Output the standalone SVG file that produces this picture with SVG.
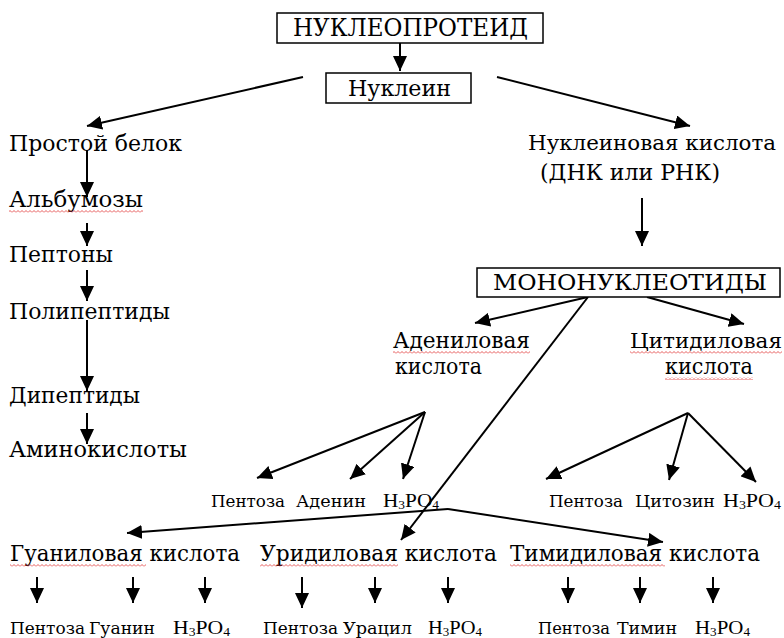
<svg xmlns="http://www.w3.org/2000/svg" width="784" height="638" viewBox="0 0 784 638">
<defs>
<marker id="ah" markerUnits="userSpaceOnUse" markerWidth="15" markerHeight="14" refX="15" refY="7" orient="auto"><path d="M0,0 L15,7 L0,14 z" fill="#000"/></marker>
<pattern id="wave" patternUnits="userSpaceOnUse" width="4" height="3"><path d="M0,2.5 L2,0.5 L4,2.5" fill="none" stroke="#e03030" stroke-width="0.8"/></pattern>
</defs>
<style>
.t{font-family:"DejaVu Serif","Liberation Serif","Noto Serif",serif;fill:#000}
.f{font-family:"Liberation Serif","DejaVu Serif",serif;fill:#000;font-size:19px}
.big{font-size:23px}
.sm{font-size:17px}
.sub{font-size:12px}
.box{fill:#fff;stroke:#000;stroke-width:1.5}
.c{stroke:#000;stroke-width:2;fill:none}
.a{marker-end:url(#ah)}
.sq{fill:url(#wave)}
</style>
<rect width="784" height="638" fill="#fff"/>

<g id="connectors">
<line class="c a" x1="400" y1="43" x2="400" y2="71"/>
<line class="c a" x1="303" y1="77" x2="87" y2="126"/>
<line class="c a" x1="497" y1="77" x2="690" y2="126"/>
<line class="c a" x1="87" y1="150" x2="87" y2="197"/>
<line class="c a" x1="87" y1="223" x2="87" y2="246"/>
<line class="c a" x1="87" y1="270" x2="87" y2="301"/>
<line class="c a" x1="87" y1="320" x2="87" y2="391"/>
<line class="c a" x1="87" y1="413" x2="87" y2="444"/>
<line class="c a" x1="642" y1="198" x2="642" y2="246"/>
<line class="c a" x1="588" y1="297" x2="475" y2="323"/>
<line class="c a" x1="647" y1="297" x2="744" y2="324"/>
<line class="c a" x1="588" y1="297" x2="401" y2="540"/>
<line class="c a" x1="425" y1="412" x2="257" y2="478"/>
<line class="c a" x1="425" y1="412" x2="350" y2="479"/>
<line class="c a" x1="425" y1="412" x2="403" y2="479"/>
<line class="c a" x1="688" y1="413" x2="546" y2="479"/>
<line class="c a" x1="688" y1="413" x2="669" y2="480"/>
<line class="c a" x1="688" y1="413" x2="756" y2="482"/>
<line class="c a" x1="448" y1="509" x2="127" y2="533"/>
<line class="c a" x1="448" y1="509" x2="663" y2="542"/>
<line class="c a" x1="37" y1="577" x2="37" y2="603"/>
<line class="c a" x1="133" y1="577" x2="133" y2="603"/>
<line class="c a" x1="205" y1="577" x2="205" y2="603"/>
<line class="c a" x1="302" y1="577" x2="302" y2="608"/>
<line class="c a" x1="375" y1="577" x2="375" y2="603"/>
<line class="c a" x1="448" y1="577" x2="448" y2="603"/>
<line class="c a" x1="568" y1="577" x2="568" y2="603"/>
<line class="c a" x1="640" y1="577" x2="640" y2="603"/>
<line class="c a" x1="713" y1="577" x2="713" y2="603"/>
</g>

<g id="nucleoprotein"><rect class="box" x="277" y="13" width="266" height="30"/><text class="t" x="293" y="36" font-size="24" textLength="235" lengthAdjust="spacingAndGlyphs">НУКЛЕОПРОТЕИД</text></g>
<g id="nuclein"><rect class="box" x="326" y="73" width="145" height="30"/><text class="t big" x="348" y="96" textLength="103" lengthAdjust="spacingAndGlyphs">Нуклеин</text></g>

<g id="simple-protein"><text class="t big" x="9" y="151" textLength="173" lengthAdjust="spacingAndGlyphs">Простой белок</text></g>
<g id="albumoses"><text class="t big" x="9" y="207" textLength="134" lengthAdjust="spacingAndGlyphs">Альбумозы</text><rect class="sq" x="9" y="210" width="134" height="3"/></g>
<g id="peptones"><text class="t big" x="9" y="262" textLength="104" lengthAdjust="spacingAndGlyphs">Пептоны</text></g>
<g id="polypeptides"><text class="t big" x="9" y="319" textLength="161" lengthAdjust="spacingAndGlyphs">Полипептиды</text></g>
<g id="dipeptides"><text class="t big" x="9" y="403" textLength="131" lengthAdjust="spacingAndGlyphs">Дипептиды</text></g>
<g id="amino-acids"><text class="t big" x="9" y="457" textLength="178" lengthAdjust="spacingAndGlyphs">Аминокислоты</text></g>

<g id="nucleic-acid"><text class="t" font-size="21" x="528" y="150" textLength="248" lengthAdjust="spacingAndGlyphs">Нуклеиновая кислота</text><text class="t big" x="540" y="180" textLength="180" lengthAdjust="spacingAndGlyphs">(ДНК или РНК)</text></g>
<g id="mononucleotides"><rect class="box" x="477" y="268" width="303" height="29"/><text class="t big" x="493" y="290" textLength="274" lengthAdjust="spacingAndGlyphs">МОНОНУКЛЕОТИДЫ</text></g>

<g id="adenylic-acid"><text class="t big" x="393" y="348" textLength="137" lengthAdjust="spacingAndGlyphs">Адениловая</text><rect class="sq" x="393" y="351" width="137" height="3"/><text class="t big" x="395" y="374" textLength="87" lengthAdjust="spacingAndGlyphs">кислота</text></g>
<g id="cytidylic-acid"><text class="t" font-size="21" x="630" y="348" textLength="152" lengthAdjust="spacingAndGlyphs">Цитидиловая</text><rect class="sq" x="630" y="351" width="152" height="3"/><text class="t big" x="665" y="374" textLength="88" lengthAdjust="spacingAndGlyphs">кислота</text><rect class="sq" x="665" y="377" width="88" height="3"/></g>

<g id="adenylic-parts">
<text class="t sm" x="211" y="507" textLength="74" lengthAdjust="spacingAndGlyphs">Пентоза</text>
<text class="t sm" x="296" y="507" textLength="70" lengthAdjust="spacingAndGlyphs">Аденин</text>
<text class="f" x="383" y="507" textLength="56" lengthAdjust="spacingAndGlyphs">H<tspan class="sub" dy="2">3</tspan><tspan dy="-2">PO</tspan><tspan class="sub" dy="2">4</tspan></text>
</g>
<g id="cytidylic-parts">
<text class="t sm" x="549" y="507" textLength="74" lengthAdjust="spacingAndGlyphs">Пентоза</text>
<text class="t sm" x="635" y="507" textLength="80" lengthAdjust="spacingAndGlyphs">Цитозин</text>
<text class="f" x="723" y="507" textLength="58" lengthAdjust="spacingAndGlyphs">H<tspan class="sub" dy="2">3</tspan><tspan dy="-2">PO</tspan><tspan class="sub" dy="2">4</tspan></text>
</g>

<g id="guanylic-acid"><text class="t big" x="10" y="561" textLength="230" lengthAdjust="spacingAndGlyphs">Гуаниловая кислота</text><rect class="sq" x="10" y="564" width="136" height="3"/></g>
<g id="uridylic-acid"><text class="t big" x="260" y="561" textLength="237" lengthAdjust="spacingAndGlyphs">Уридиловая кислота</text><rect class="sq" x="260" y="564" width="138" height="3"/></g>
<g id="thymidylic-acid"><text class="t big" x="510" y="561" textLength="250" lengthAdjust="spacingAndGlyphs">Тимидиловая кислота</text><rect class="sq" x="510" y="564" width="155" height="3"/></g>

<g id="guanylic-parts">
<text class="t sm" x="10" y="634" textLength="75" lengthAdjust="spacingAndGlyphs">Пентоза</text>
<text class="t sm" x="89" y="634" textLength="66" lengthAdjust="spacingAndGlyphs">Гуанин</text>
<text class="f" x="173" y="634" textLength="57" lengthAdjust="spacingAndGlyphs">H<tspan class="sub" dy="2">3</tspan><tspan dy="-2">PO</tspan><tspan class="sub" dy="2">4</tspan></text>
</g>
<g id="uridylic-parts">
<text class="t sm" x="263" y="634" textLength="75" lengthAdjust="spacingAndGlyphs">Пентоза</text>
<text class="t sm" x="343" y="634" textLength="69" lengthAdjust="spacingAndGlyphs">Урацил</text>
<text class="f" x="428" y="634" textLength="54" lengthAdjust="spacingAndGlyphs">H<tspan class="sub" dy="2">3</tspan><tspan dy="-2">PO</tspan><tspan class="sub" dy="2">4</tspan></text>
</g>
<g id="thymidylic-parts">
<text class="t sm" x="538" y="634" textLength="72" lengthAdjust="spacingAndGlyphs">Пентоза</text>
<text class="t sm" x="617" y="634" textLength="60" lengthAdjust="spacingAndGlyphs">Тимин</text>
<text class="f" x="695" y="634" textLength="55" lengthAdjust="spacingAndGlyphs">H<tspan class="sub" dy="2">3</tspan><tspan dy="-2">PO</tspan><tspan class="sub" dy="2">4</tspan></text>
</g>
</svg>
